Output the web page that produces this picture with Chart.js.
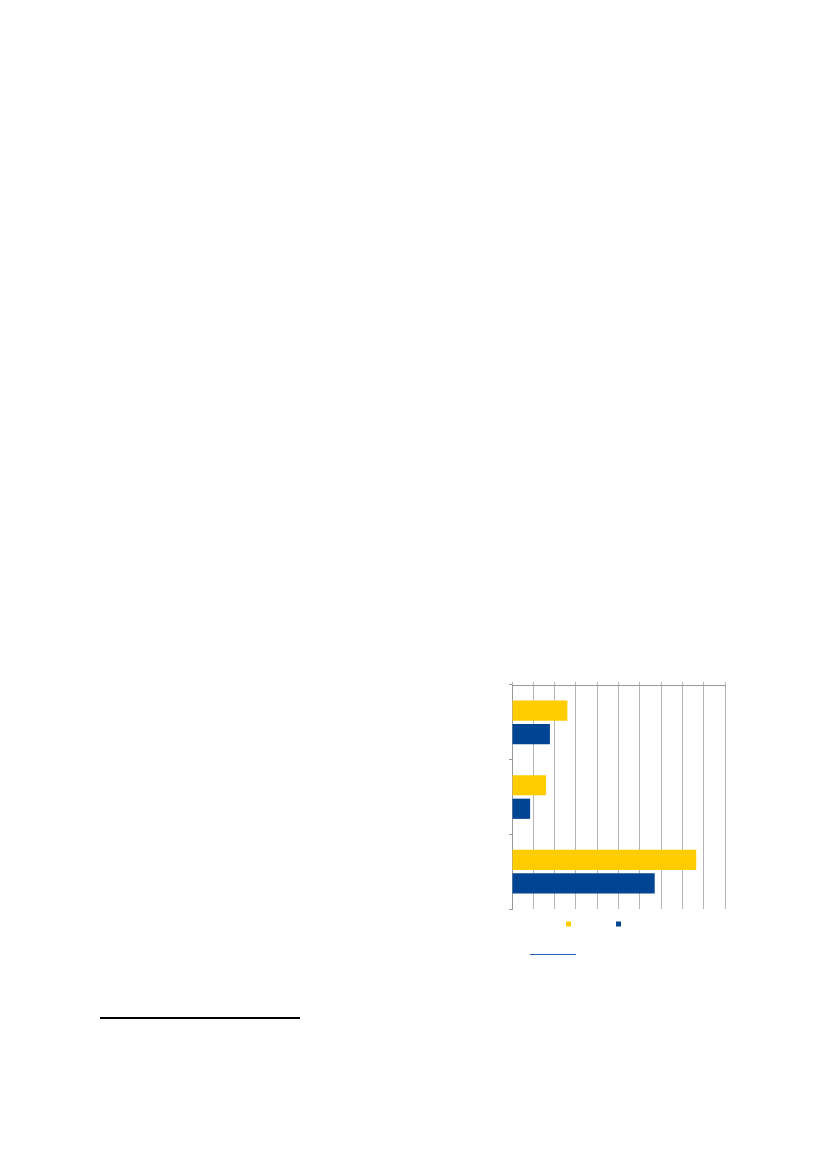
<!DOCTYPE html>
<html>
<head>
<meta charset="utf-8">
<script src="https://cdn.jsdelivr.net/npm/chart.js@4.4.1/dist/chart.umd.min.js"></script>
<style>
  html, body { margin: 0; padding: 0; background: #fff; }
  body { width: 827px; height: 1169px; position: relative; overflow: hidden; font-family: "Liberation Sans", Arial, sans-serif; }
  #wrap { position: absolute; left: 497px; top: 670px; width: 231px; height: 269px; }
  .lien { position: absolute; left: 530px; top: 954px; width: 46px; border-top: 1px solid #1f5fae; }
  .filet { position: absolute; left: 100px; top: 1017px; width: 200px; border-top: 2px solid #000; }
</style>
</head>
<body>
<div id="wrap"><canvas id="graf"></canvas></div>
<div class="lien"></div>
<div class="filet"></div>
<script>
// Données (échelle 0-10, aucun libellé visible)
const categories = ['', '', ''];
const serieA = [2.6, 1.6, 8.65];   // jaune
const serieB = [1.78, 0.85, 6.7];  // bleu
// libellés de légende vides (espaces cadratins pour l'espacement)
const nomsSeries = ['\u2003\u2003\u2003', '\u2003\u2003\u2003'];
const GRIS = '#b4b4b4';

new Chart(document.getElementById('graf'), {
  type: 'bar',
  data: {
    labels: categories,
    datasets: [
      { label: nomsSeries[0], data: serieA, backgroundColor: '#ffcc00', categoryPercentage: 0.63, barPercentage: 0.86 },
      { label: nomsSeries[1], data: serieB, backgroundColor: '#004494', categoryPercentage: 0.63, barPercentage: 0.86 },
    ],
  },
  options: {
    indexAxis: 'y', responsive: true, maintainAspectRatio: false, animation: false,
    layout: { padding: { right: 3 } },
    plugins: {
      tooltip: { enabled: false },
      legend: { position: 'bottom',
        labels: { boxWidth: 5, boxHeight: 5, padding: 10, font: { size: 10 } } },
    },
    scales: {
      x: { position: 'top', min: 0, max: 10,
        ticks: { stepSize: 1, display: false },
        grid: { color: GRIS, tickLength: 3 },
        border: { color: '#999' },
        afterFit: s => { s.height = 15; } },
      y: {
        ticks: { display: false },
        grid: { drawOnChartArea: false, color: '#999', tickLength: 3 },
        border: { color: '#999' },
        afterFit: s => { s.width = 15; } },
    },
  },
});
</script>
</body>
</html>
